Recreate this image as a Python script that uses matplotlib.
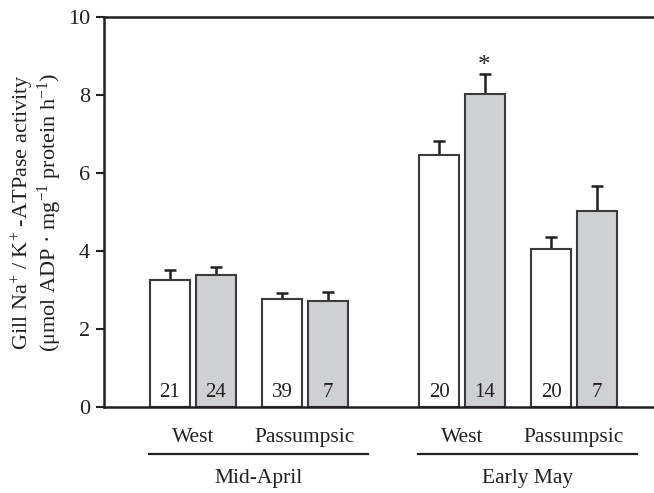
import matplotlib
matplotlib.use('Agg')
import matplotlib.pyplot as plt

plt.rcParams['font.family'] = ['Liberation Serif', 'DejaVu Serif']
plt.rcParams['mathtext.fontset'] = 'custom'
plt.rcParams['mathtext.rm'] = 'Liberation Serif'
plt.rcParams['mathtext.it'] = 'Liberation Serif:italic'
plt.rcParams['mathtext.bf'] = 'Liberation Serif:bold'

# data
periods = ['Mid-April', 'Early May']
sites = ['West', 'Passumpsic']
means = [3.26, 3.39, 2.76, 2.73, 6.47, 8.02, 4.05, 5.02]
errs = [0.25, 0.21, 0.17, 0.22, 0.36, 0.52, 0.32, 0.65]
counts = ['21', '24', '39', '7', '20', '14', '20', '7']
star = [False, False, False, False, False, True, False, False]

ink = '#231f20'
fills = ['white', '#cfd0d2']

fig = plt.figure(figsize=(6.54, 4.93), dpi=100)
ax = fig.add_axes([104/654, 86/493, 550/654, 390/493])

# bar centres (pixel-like units along x)
w = 40
xs = []
start = 170
for g in range(2):
    for s in range(2):
        base = start + g*269 + s*112
        xs.append(base)
        xs.append(base + 45.5)

for i, (x, m, e) in enumerate(zip(xs, means, errs)):
    ax.bar(x, m, width=w, color=fills[i % 2], edgecolor='#3a3a3a', linewidth=1.5, zorder=2)
    ax.errorbar(x, m, yerr=[[0], [e]], fmt='none', ecolor=ink, elinewidth=1.8,
                capsize=4.5, capthick=1.8, zorder=1)
    ax.text(x, 0.36, counts[i], ha='center', va='center', fontsize=15, color=ink, zorder=3)
    if star[i]:
        ax.text(x, 8.75, '*', ha='center', va='center', fontsize=18, color=ink)

ax.set_xlim(104, 654)
ax.set_ylim(0, 10)
ax.set_yticks([0, 2, 4, 6, 8, 10])
ax.tick_params(axis='y', direction='out', length=6, width=1.5, labelsize=16, colors=ink, pad=4)
ax.set_xticks([])
for side in ['left', 'bottom', 'top']:
    ax.spines[side].set_linewidth(1.8)
    ax.spines[side].set_color(ink)
ax.spines['right'].set_visible(False)

ax.set_ylabel('Gill Na$^{+}$ / K$^{+}$ -ATPase activity\n'
              '(\u03bcmol ADP \u00b7 mg$^{-1}$ protein h$^{-1}$)',
              fontsize=16, color=ink, linespacing=0.95, labelpad=3)

# group labels under the axis
for g in range(2):
    for s in range(2):
        i = g*4 + s*2
        c = (xs[i] + xs[i+1]) / 2
        ax.text(c, -0.78, sites[s], ha='center', va='center', fontsize=15.5, color=ink, clip_on=False)
    left = xs[g*4] - w/2 - 1
    right = xs[g*4 + 3] + w/2 + 20
    ax.plot([left, right], [-1.21, -1.21], color=ink, lw=1.6, clip_on=False)
    ax.text((left + right) / 2, -1.83, periods[g], ha='center', va='center', fontsize=15.5,
            color=ink, clip_on=False)

plt.savefig('out.png', dpi=100)
